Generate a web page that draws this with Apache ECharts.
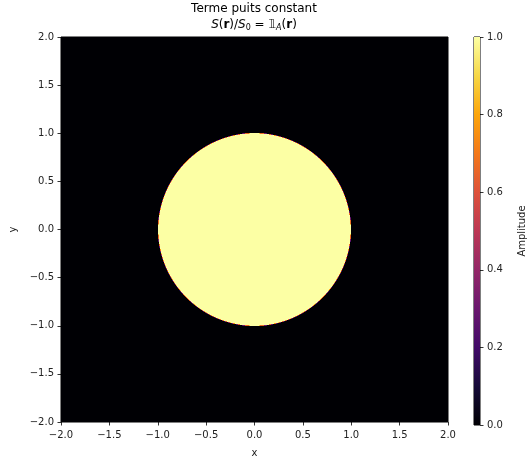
<!DOCTYPE html>
<html>
<head>
<meta charset="utf-8">
<script src="https://cdn.jsdelivr.net/npm/echarts@6/dist/echarts.min.js"></script>
<style>
  html, body { margin: 0; padding: 0; background: #fff; }
  #main { width: 528px; height: 463px; }
</style>
</head>
<body>
<div id="main"></div>
<script>
// domain of the image and the disk A
const xRange = [-2, 2];
const yRange = [-2, 2];
const diskCenter = [0, 0];
const diskRadius = 1.0;
const gridN = 388; // samples per side

const cbarTicks = [0.0, 0.2, 0.4, 0.6, 0.8, 1.0];

// inferno colormap stops
const inferno = ['#000004', '#160b39', '#420a68', '#6a176e', '#932667',
  '#bc3754', '#dd513a', '#f37819', '#fca50a', '#f6d746', '#fcffa4'];

// S(r)/S0 = 1_A(r) sampled on the grid (3x3 sub-samples per cell, like imshow antialiasing),
// then packed row by row into runs of equal value: [x0, x1, y0, y1, value]
const cellW = (xRange[1] - xRange[0]) / gridN;
const cellH = (yRange[1] - yRange[0]) / gridN;
function amplitude(i, j) {
  let inside = 0;
  for (let a = 0; a < 3; a++) {
    for (let b = 0; b < 3; b++) {
      const x = xRange[0] + (i + (a + 0.5) / 3) * cellW - diskCenter[0];
      const y = yRange[0] + (j + (b + 0.5) / 3) * cellH - diskCenter[1];
      if (x * x + y * y <= diskRadius * diskRadius) inside++;
    }
  }
  return inside / 9;
}
const runs = [];
for (let j = 0; j < gridN; j++) {
  let start = 0, cur = amplitude(0, j);
  for (let i = 1; i <= gridN; i++) {
    const v = i < gridN ? amplitude(i, j) : -1;
    if (v !== cur) {
      runs.push([xRange[0] + start * cellW, xRange[0] + i * cellW,
                 yRange[0] + j * cellH, yRange[0] + (j + 1) * cellH, cur]);
      start = i; cur = v;
    }
  }
}

const fmt = v => v.toFixed(1).replace('-', '\u2212');
const tickStyle = { show: true, length: 3.5, lineStyle: { color: '#000', width: 0.8 } };
const lbl = { color: '#222', fontSize: 10, fontFamily: 'DejaVu Sans' };

const chart = echarts.init(document.getElementById('main'));
chart.setOption({
  animation: false,
  grid: [
    { left: 60, top: 37, width: 388, height: 388, show: true, borderColor: '#000', borderWidth: 1, backgroundColor: '#000004' },
    { left: 474, top: 37, width: 19, height: 388, show: true, borderColor: '#000', borderWidth: 1, backgroundColor: 'transparent' }
  ],
  graphic: [
    { type: 'text', x: 254, y: 3, style: { text: 'Terme puits constant', textAlign: 'center', fontSize: 12, fontFamily: 'DejaVu Sans', fill: '#000' } },
    { type: 'text', x: 254, y: 18, style: {
      text: '{it|S}({b|r})/{it|S}{sub|0} = 𝟙{subi|A}({b|r})',
      textAlign: 'center', fontSize: 12, fontFamily: 'DejaVu Sans', fill: '#000',
      rich: {
        it: { fontStyle: 'italic', fontSize: 12, fontFamily: 'DejaVu Sans' },
        b: { fontWeight: 'bold', fontSize: 12, fontFamily: 'DejaVu Sans' },
        sub: { fontSize: 8, padding: [6, 0, 0, 0], fontFamily: 'DejaVu Sans' },
        subi: { fontSize: 8, fontStyle: 'italic', padding: [6, 0, 0, 0], fontFamily: 'DejaVu Sans' }
      } } }
  ],
  visualMap: {
    show: false, type: 'continuous', min: 0, max: 1, seriesIndex: 0, dimension: 4,
    inRange: { color: inferno }
  },
  xAxis: [
    { type: 'value', gridIndex: 0, position: 'bottom', min: xRange[0], max: xRange[1], interval: 0.5,
      name: 'x', nameLocation: 'middle', nameGap: 26, nameTextStyle: lbl,
      axisLine: { show: false, onZero: false }, axisTick: tickStyle, splitLine: { show: false },
      axisLabel: Object.assign({ margin: 8, formatter: fmt }, lbl) },
    { type: 'category', gridIndex: 1, data: ['cbar'], show: false }
  ],
  yAxis: [
    { type: 'value', gridIndex: 0, position: 'left', min: yRange[0], max: yRange[1], interval: 0.5,
      name: 'y', nameLocation: 'middle', nameGap: 43, nameTextStyle: lbl,
      axisLine: { show: false, onZero: false }, axisTick: tickStyle, splitLine: { show: false },
      axisLabel: Object.assign({ margin: 7, formatter: fmt }, lbl) },
    { type: 'value', gridIndex: 1, min: cbarTicks[0], max: cbarTicks[cbarTicks.length - 1], interval: 0.2,
      position: 'right', name: 'Amplitude', nameLocation: 'middle', nameGap: 37, nameTextStyle: lbl,
      axisLine: { show: false, onZero: false }, axisTick: tickStyle, splitLine: { show: false },
      axisLabel: Object.assign({ margin: 7, formatter: fmt }, lbl) }
  ],
  series: [
    { type: 'custom', xAxisIndex: 0, yAxisIndex: 0, data: runs, silent: true, clip: true,
      encode: { x: [0, 1], y: [2, 3] },
      renderItem: function (params, api) {
        const p0 = api.coord([api.value(0), api.value(3)]);
        const p1 = api.coord([api.value(1), api.value(2)]);
        const x = Math.round(p0[0]), y = Math.round(p0[1]);
        return { type: 'rect',
          shape: { x: x, y: y, width: Math.round(p1[0]) - x, height: Math.round(p1[1]) - y },
          style: { fill: api.visual('color') } };
      } },
    { type: 'bar', xAxisIndex: 1, yAxisIndex: 1, data: [1], barWidth: '100%', silent: true,
      itemStyle: { color: { type: 'linear', x: 0, y: 1, x2: 0, y2: 0,
        colorStops: inferno.map((c, k) => ({ offset: k / (inferno.length - 1), color: c })) } } }
  ]
});
</script>
</body>
</html>
